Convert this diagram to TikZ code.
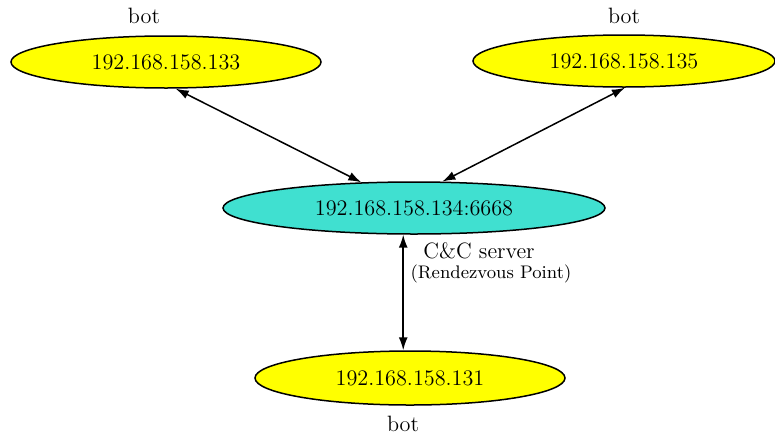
\documentclass[tikz,border=0pt]{standalone}
\usetikzlibrary{shapes.geometric,arrows.meta}
\definecolor{botfill}{HTML}{FFFF00}
\definecolor{ccfill}{HTML}{40E0D0}
\begin{document}
\begin{tikzpicture}[x=0.5pt,y=-0.5pt,
  host/.style={ellipse,draw=black,line width=0.75pt,inner sep=0pt,
    font=\fontsize{11.1}{13}\selectfont},
  lbl/.style={inner sep=0pt,font=\fontsize{11.1}{13}\selectfont},
  small/.style={inner sep=0pt,font=\fontsize{9.1}{11}\selectfont},
  link/.style={line width=0.75pt,{Latex[length=6.5pt,width=4.5pt]}-{Latex[length=6.5pt,width=4.5pt]}}]
\useasboundingbox (0,0) rectangle (775,434);
\node[host,fill=botfill,minimum width=155pt,minimum height=26pt] (a) at (166,62) {192.168.158.133};
\node[host,fill=botfill,minimum width=151pt,minimum height=26pt] (b) at (624,61) {192.168.158.135};
\node[host,fill=ccfill,minimum width=191pt,minimum height=26pt] (c) at (414,208) {192.168.158.134:6668};
\node[host,fill=botfill,minimum width=155pt,minimum height=27pt] (d) at (410,378) {192.168.158.131};
\node[lbl] (la) at (144,16) {bot};
\node[lbl] (lb) at (624,16) {bot};
\node[lbl] (ld) at (403,424) {bot};
\node[lbl] (lc) at (479,251) {C\&C server};
\node[small] (lr) at (491,274) {(Rendezvous Point)};
\draw[link] (a.290) -- (c.154);
\draw[link] (b.272) -- (c.43);
\draw[link] (c.248) -- (c.248 |- d.north);
\end{tikzpicture}
\end{document}
